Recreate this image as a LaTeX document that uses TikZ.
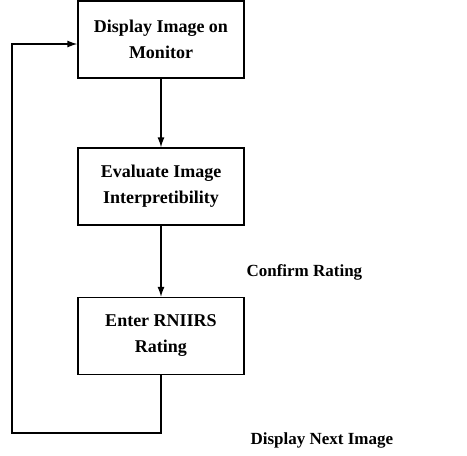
\documentclass[tikz,border=0pt]{standalone}
\usepackage{fontspec}
\setmainfont{Liberation Serif}
\usetikzlibrary{arrows.meta}

\begin{document}
\begin{tikzpicture}[x=1pt,y=-1pt,
    stepbox/.style={draw,line width=1.3pt,minimum width=166pt,minimum height=77pt,
      align=center,font=\bfseries\fontsize{18}{26}\selectfont},
    flow/.style={line width=1.3pt,-{Latex[length=10pt,width=7pt]}},
    note/.style={font=\bfseries\fontsize{17}{24}\selectfont}]
    \useasboundingbox (0,0) rectangle (467,456);
    % Rating loop
    \node[stepbox] (display) at (161,39.5) {Display Image on\\Monitor};
    \node[stepbox] (evaluate) at (161,186.5) {Evaluate Image\\Interpretibility};
    \node[stepbox] (enter) at (161,336) {Enter RNIIRS\\Rating};
    \node[note,anchor=west] (confirm) at (243,272) {Confirm Rating};
    \node[note,anchor=west] (next) at (247,440) {Display Next Image};
    \coordinate (loopr) at (161,433);
    \coordinate (loopl) at (12,433);
    \draw[flow] (display) -- (evaluate);
    \draw[flow] (evaluate) -- (enter);
    \draw[flow] (enter.south) -- (loopr) -- (loopl) |- ([yshift=-4.5pt]display.west);
\end{tikzpicture}
\end{document}
